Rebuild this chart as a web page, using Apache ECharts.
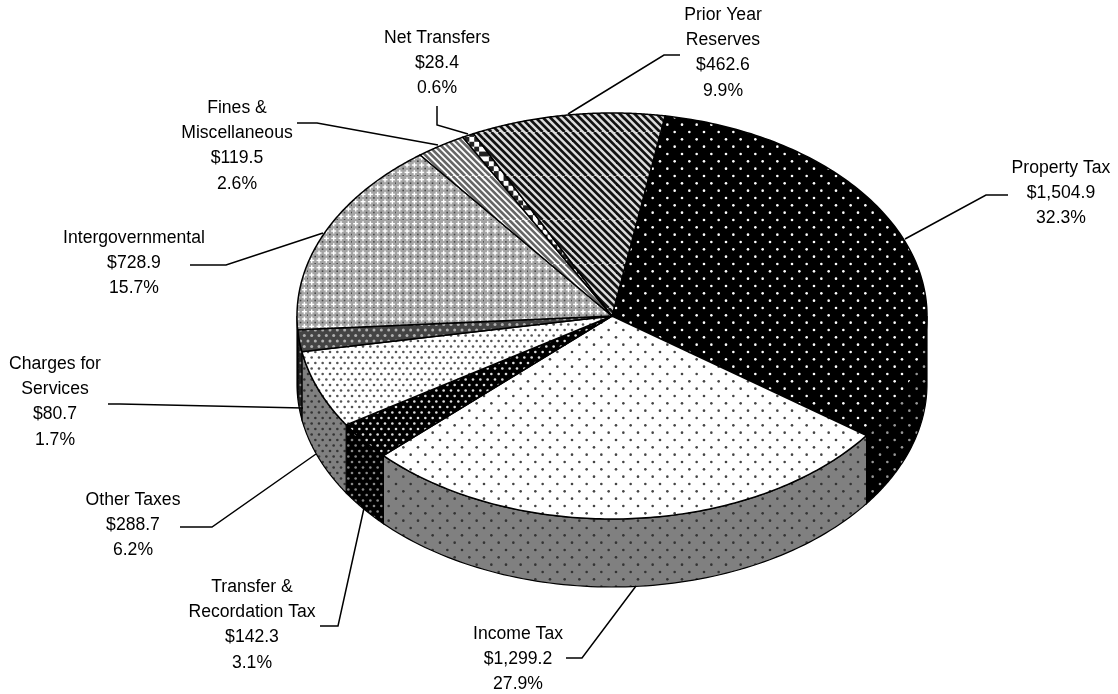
<!DOCTYPE html>
<html><head><meta charset="utf-8">
<style>html,body{margin:0;background:#fff}#c{width:1118px;height:694px}</style>
<script src="https://cdn.jsdelivr.net/npm/echarts@6/dist/echarts.min.js"></script>
</head><body><div id="c"></div>
<script>
const categories=['Property Tax','Income Tax','Transfer &\nRecordation Tax','Other Taxes','Charges for\nServices','Intergovernmental','Fines &\nMiscellaneous','Net Transfers','Prior Year\nReserves'];
const amounts=[1504.9,1299.2,142.3,288.7,80.7,728.9,119.5,28.4,462.6];
const amountLabels=['$1,504.9','$1,299.2','$142.3','$288.7','$80.7','$728.9','$119.5','$28.4','$462.6'];
const percentLabels=['32.3%','27.9%','3.1%','6.2%','1.7%','15.7%','2.6%','0.6%','9.9%'];

const CX=612,CY=316,RX=315,RY=203,DEPTH=68,START=9.7;
function tile(bg,fn){const c=document.createElement('canvas');c.width=44;c.height=44;const g=c.getContext('2d');g.fillStyle=bg;g.fillRect(0,0,44,44);fn(g);
  return {image:c,repeat:'repeat'};}
function dots(g,color,r,cols,rows){g.fillStyle=color;const dx=44/cols,dy=44/rows;
  for(let j=-1;j<=rows;j++)for(let i=-1;i<=cols;i++){const x=(i+(j%2?0.5:0))*dx,y=j*dy;g.beginPath();g.arc(x,y,r,0,7);g.fill();}}
function diag(g,color,w,n){g.strokeStyle=color;g.lineWidth=w;const s=44/n;for(let i=-2*n;i<=2*n;i++){g.beginPath();g.moveTo(i*s,0);g.lineTo(i*s+44,44);g.stroke();}}
const sparse=(bg,fg)=>tile(bg,g=>dots(g,fg,1.3,3,6));
const dense=(bg,fg)=>tile(bg,g=>dots(g,fg,1.3,6,8));
const topFill=[
  sparse('#000','#fff'),
  sparse('#fff','#444'),
  dense('#000','#ddd'),
  dense('#fff','#555'),
  tile('#444',g=>dots(g,'#b0b0b0',1.5,6,8)),
  tile('#a4a4a4',g=>{const s=44/6;for(let i=0;i<6;i++)for(let j=0;j<6;j++){const x=i*s,y=j*s;g.fillStyle='#fff';g.fillRect(x+1.2,y+3,5,1.4);g.fillRect(x+3,y+1.2,1.4,5);g.fillStyle='#444';g.fillRect(x+6.4,y+6.4,1.6,1.6);}}),
  tile('#fff',g=>diag(g,'#666',2.6,7)),
  tile('#fff',g=>{g.fillStyle='#222';for(let i=0;i<9;i++)for(let j=0;j<9;j++)if((i+j)%2==0)g.fillRect(i*44/9,j*44/9,44/9,44/9);}),
  tile('#ddd',g=>diag(g,'#111',2.7,6))
];
const sideFill=[
  sparse('#000','#999'),
  sparse('#808080','#333'),
  dense('#000','#888'),
  dense('#808080','#333'),
  dense('#222','#888'),
  sparse('#000','#999'),sparse('#000','#999'),sparse('#000','#999'),sparse('#000','#999')
];
const total=amounts.reduce((a,b)=>a+b,0);
let acc=0;
const sliceData=amounts.map((v,i)=>{const d=[acc,v,i];acc+=v;return d;});
const angle=v=>echarts.number.linearMap(v,[0,total],[START,START+360]);
const pt=(deg,dy)=>{const t=deg*Math.PI/180;return [CX+RX*Math.sin(t),CY-RY*Math.cos(t)+(dy||0)];};

const labelLayout=[
 {x:1061,y:168,line:[[905,239],[986,195],[1008,195]]},
 {x:518,y:634,line:[[636,586],[582,658],[566,658]]},
 {x:252,y:587,line:[[364,508],[338,626],[320,626]]},
 {x:133,y:500,line:[[316,454],[212,527],[180,527]]},
 {x:55,y:364,line:[[303,408],[120,404],[108,404]]},
 {x:134,y:238,line:[[323,233],[226,265],[190,265]]},
 {x:237,y:108,line:[[438,145],[317,123],[297,123]]},
 {x:437,y:38,line:[[468,134],[437,125],[437,106]]},
 {x:723,y:15,line:[[568,114],[664,55],[680,55]]}
];
const LH=25.3;
function renderSlice(params,api){
  const a0=angle(api.value(0)),a1=angle(api.value(0)+api.value(1)),i=api.value(2),kids=[];
  const lo=Math.max(a0,90),hi=Math.min(a1,270);
  if(hi>lo){
    const up=[],down=[];
    for(let k=0;k<=80;k++){const d=lo+(hi-lo)*k/80;up.push(pt(d));down.unshift(pt(d,DEPTH));}
    kids.push({type:'polygon',shape:{points:up.concat(down)},style:{fill:sideFill[i],stroke:'#000',lineWidth:1.2}});
  }
  const pts=[[CX,CY]];
  for(let k=0;k<=120;k++)pts.push(pt(a0+(a1-a0)*k/120));
  kids.push({type:'polygon',shape:{points:pts},style:{fill:topFill[i],stroke:'#000',lineWidth:1.5}});
  return {type:'group',children:kids};
}
function renderLabel(params,api){
  const i=api.value(0),L=labelLayout[i];
  const lines=categories[i].split('\n').concat([amountLabels[i],percentLabels[i]]);
  const kids=[{type:'polyline',shape:{points:L.line},style:{fill:'none',stroke:'#000',lineWidth:1.5}}];
  lines.forEach((s,j)=>kids.push({type:'text',style:{text:s,x:L.x,y:L.y+j*LH,align:'center',verticalAlign:'middle',fill:'#000',font:'17.6px "Liberation Sans",Arial,sans-serif'}}));
  return {type:'group',children:kids};
}
const chart=echarts.init(document.getElementById('c'),null,{renderer:'canvas',width:1118,height:694,devicePixelRatio:1});
chart.setOption({animation:false,backgroundColor:'#fff',
 series:[
  {type:'custom',coordinateSystem:'none',renderItem:renderSlice,data:sliceData,silent:true,z:2},
  {type:'custom',coordinateSystem:'none',renderItem:renderLabel,data:categories.map((c,i)=>[i]),silent:true,z:3}
 ]});
</script></body></html>
